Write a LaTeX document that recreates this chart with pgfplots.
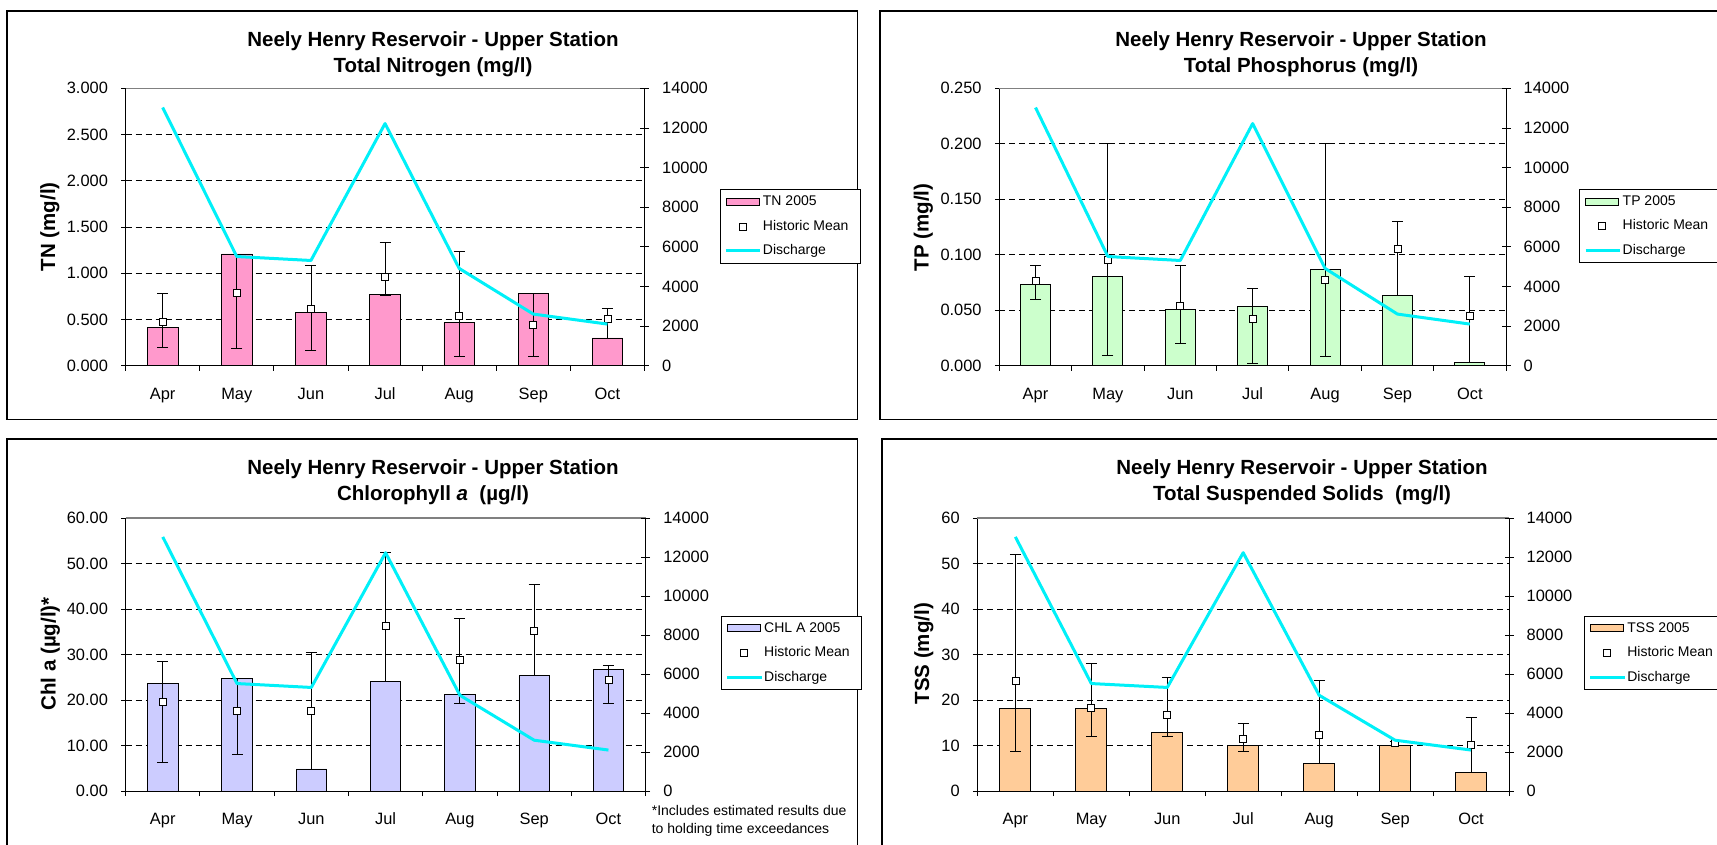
\documentclass[border=0pt]{standalone}
\usepackage{fontspec}
\setmainfont{Liberation Sans}
\usepackage{pgfplots}
\usepackage{pgfplotstable}
\pgfplotsset{compat=1.18}

\definecolor{tnpink}{HTML}{FF99CC}
\definecolor{tpgreen}{HTML}{CCFFCC}
\definecolor{chlblue}{HTML}{CCCCFF}
\definecolor{tsspeach}{HTML}{FFCC99}
\definecolor{dischg}{HTML}{00F0F8}

\newcommand{\tickfont}{\fontsize{16.4}{19}\selectfont}
\newcommand{\titlefont}{\fontsize{20.5}{25}\selectfont\bfseries}
\newcommand{\legfont}{\fontsize{14}{16}\selectfont}

\pgfplotstableread{
x bar m lo hi q
0 0.411 0.472 0.198 0.779 13030
1 1.208 0.786 0.184 1.200 5510
2 0.580 0.620 0.170 1.082 5310
3 0.768 0.956 0.760 1.330 12220
4 0.469 0.534 0.100 1.233 4910
5 0.779 0.447 0.100 0.780 2605
6 0.300 0.508 0.300 0.624 2100
}\tndata

\pgfplotstableread{
x bar m lo hi q
0 0.0736 0.0766 0.0600 0.0900 13030
1 0.0808 0.0956 0.0097 0.2000 5510
2 0.0510 0.0543 0.0200 0.0900 5310
3 0.0537 0.0422 0.0024 0.0700 12220
4 0.0869 0.0775 0.0084 0.2000 4910
5 0.0633 0.1050 0.0630 0.1300 2605
6 0.0027 0.0446 0.0027 0.0805 2100
}\tpdata

\pgfplotstableread{
x bar m lo hi q
0 23.60 19.60 6.30 28.50 13030
1 24.76 17.65 8.06 24.76 5510
2 4.84 17.65 4.84 30.50 5310
3 24.10 36.30 24.10 52.40 12220
4 21.20 28.80 19.20 37.95 4910
5 25.30 35.20 25.30 45.50 2605
6 26.70 24.50 19.20 27.60 2100
}\chldata

\pgfplotstableread{
x bar m lo hi q
0 18.10 24.25 8.80 52.10 13030
1 18.10 18.20 12.10 28.10 5510
2 12.90 16.70 12.10 25.00 5310
3 9.96 11.36 8.80 14.90 12220
4 6.00 12.45 6.00 24.20 4910
5 10.00 10.60 10.00 11.00 2605
6 4.10 10.10 4.10 16.10 2100
}\tssdata

\pgfplotsset{
  leftax/.style={
    scale only axis, anchor=south west,
    xmin=-0.5, xmax=6.5, ymin=0,
    axis x line*=bottom, axis y line*=left,
    axis line style={-, black, line width=0.8pt},
    xtick={0,...,6}, xticklabels={Apr,May,Jun,Jul,Aug,Sep,Oct},
    major x tick style={draw=none},
    minor xtick={-0.5,0.5,...,6.5},
    minor tick length=5pt,
    minor x tick style={black, line width=0.8pt, yshift=-2.5pt},
    tick align=center, major tick length=9pt,
    y tick style={black, line width=0.8pt},
    ymajorgrids, major grid style={black, line width=0.7pt, dash pattern=on 6pt off 4pt},
    scaled y ticks=false,
    tick label style={font=\tickfont},
    yticklabel style={anchor=east, inner sep=0pt, xshift=-13pt, /pgf/number format/assume math mode=true},
    xticklabel style={anchor=base, inner sep=0pt, yshift=-29.3pt},
    clip=false,
  },
  rightax/.style={
    scale only axis, anchor=south west,
    xmin=-0.5, xmax=6.5, ymin=0, ymax=14000,
    axis x line=none, axis y line*=right,
    axis line style={-, black, line width=0.8pt},
    ytick={0,2000,...,14000},
    tick align=center, major tick length=9pt,
    y tick style={black, line width=0.8pt},
    scaled y ticks=false,
    tick label style={font=\tickfont},
    yticklabel style={anchor=west, inner sep=0pt, xshift=13pt, /pgf/number format/assume math mode=true, /pgf/number format/set thousands separator={}},
    legend cell align=left,
    legend style={anchor=north west, draw=black, line width=0.8pt, fill=white,
      inner xsep=4.5pt, inner ysep=5.5pt, font=\legfont, row sep=11pt,
      nodes={inner sep=0pt, text height=10.5pt, text depth=3pt},
      /tikz/every odd column/.append style={column sep=2.5pt}},
    clip=false,
  },
  meanplot/.style={only marks, mark=square*, mark size=3.5pt,
    mark options={fill=white, draw=black, line width=0.7pt},
    error bars/.cd, y dir=both, y explicit,
    error bar style={black, line width=0.8pt},
    error mark options={black, line width=0.8pt, mark size=5.5pt, rotate=90}},
  barimg/.style={legend image code/.code={\draw[fill=#1, draw=black, line width=0.8pt] (0pt,-3.5pt) rectangle (33pt,3.5pt);}},
  meanimg/.style={legend image code/.code={\path (0pt,0pt) (33pt,0pt);
      \path[mark=square*, mark size=3.5pt, mark options={fill=white, draw=black, line width=0.7pt}] plot coordinates {(16.5pt,0pt)};}},
  lineimg/.style={legend image code/.code={\path (0pt,0pt) (33pt,0pt);
      \draw[overlay, dischg, line width=3pt] (0pt,0pt) -- (34.5pt,0pt);}},
}

\begin{document}
\begin{tikzpicture}
\useasboundingbox (0,0) rectangle (1717pt,844pt);
\fill[white] (0,0) rectangle (1717pt,844pt);

% frames
\draw[line width=1.2pt] (7pt,833pt) rectangle (857.5pt,424.7pt);
\draw[line width=1.2pt] (880pt,833pt) rectangle (1725pt,424.7pt);
\draw[line width=1.2pt] (7pt,405pt) rectangle (857.5pt,-6pt);
\draw[line width=1.2pt] (882pt,405pt) rectangle (1725pt,-6pt);

% ---------------- Panel 1: TN
\begin{axis}[leftax, at={(125.6pt,478.3pt)}, width=518.9pt, height=277.4pt,
  ymax=3, ytick={0,0.5,1,1.5,2,2.5,3},
  yticklabel style={/pgf/number format/fixed, /pgf/number format/fixed zerofill, /pgf/number format/precision=3}]
\addplot[ybar, bar width=30.5pt, fill=tnpink, draw=black, line width=0.8pt] table[x=x,y=bar]{\tndata};
\addplot[meanplot] table[x=x, y=m, y error plus expr=\thisrow{hi}-\thisrow{m}, y error minus expr=\thisrow{m}-\thisrow{lo}]{\tndata};
\draw[gray, line width=1.1pt] (rel axis cs:0,1) -- (rel axis cs:1,1);
\end{axis}
\begin{axis}[rightax, at={(125.6pt,478.3pt)}, width=518.9pt, height=277.4pt,
  legend style={at={(1.1446,0.636)}}]
\addlegendimage{barimg=tnpink}\addlegendentry{TN 2005}
\addlegendimage{meanimg}\addlegendentry{Historic Mean\hspace*{7pt}}
\addplot[dischg, line width=3pt, line join=round, lineimg] table[x=x,y=q]{\tndata};
\addlegendentry{Discharge}
\end{axis}
\node[font=\titlefont, anchor=base] at (433pt,797.3pt) {Neely Henry Reservoir - Upper Station};
\node[font=\titlefont, anchor=base] at (433pt,771.7pt) {Total Nitrogen (mg/l)};
\node[font=\titlefont, rotate=90, anchor=base] at (55pt,617.3pt) {TN (mg/l)};

% ---------------- Panel 2: TP
\begin{axis}[leftax, at={(999.3pt,478.3pt)}, width=506.7pt, height=277.4pt,
  ymax=0.25, ytick={0,0.05,0.1,0.15,0.2,0.25},
  yticklabel style={/pgf/number format/fixed, /pgf/number format/fixed zerofill, /pgf/number format/precision=3}]
\addplot[ybar, bar width=30pt, fill=tpgreen, draw=black, line width=0.8pt] table[x=x,y=bar]{\tpdata};
\addplot[meanplot] table[x=x, y=m, y error plus expr=\thisrow{hi}-\thisrow{m}, y error minus expr=\thisrow{m}-\thisrow{lo}]{\tpdata};
\draw[gray, line width=1.1pt] (rel axis cs:0,1) -- (rel axis cs:1,1);
\end{axis}
\begin{axis}[rightax, at={(999.3pt,478.3pt)}, width=506.7pt, height=277.4pt,
  legend style={at={(1.1447,0.637)}}]
\addlegendimage{barimg=tpgreen}\addlegendentry{TP 2005}
\addlegendimage{meanimg}\addlegendentry{Historic Mean\hspace*{7pt}}
\addplot[dischg, line width=3pt, line join=round, lineimg] table[x=x,y=q]{\tpdata};
\addlegendentry{Discharge}
\end{axis}
\node[font=\titlefont, anchor=base] at (1301pt,797.3pt) {Neely Henry Reservoir - Upper Station};
\node[font=\titlefont, anchor=base] at (1301pt,771.7pt) {Total Phosphorus (mg/l)};
\node[font=\titlefont, rotate=90, anchor=base] at (928.7pt,616.5pt) {TP (mg/l)};

% ---------------- Panel 3: Chl a
\begin{axis}[leftax, at={(125.6pt,53pt)}, width=520pt, height=273pt,
  ymax=60, ytick={0,10,20,30,40,50,60},
  yticklabel style={/pgf/number format/fixed, /pgf/number format/fixed zerofill, /pgf/number format/precision=2}]
\addplot[ybar, bar width=30.5pt, fill=chlblue, draw=black, line width=0.8pt] table[x=x,y=bar]{\chldata};
\addplot[meanplot] table[x=x, y=m, y error plus expr=\thisrow{hi}-\thisrow{m}, y error minus expr=\thisrow{m}-\thisrow{lo}]{\chldata};
\draw[gray, line width=1.1pt] (rel axis cs:0,1) -- (rel axis cs:1,1);
\end{axis}
\begin{axis}[rightax, at={(125.6pt,53pt)}, width=520pt, height=273pt,
  legend style={at={(1.1446,0.642)}}]
\addlegendimage{barimg=chlblue}\addlegendentry{CHL A 2005}
\addlegendimage{meanimg}\addlegendentry{Historic Mean\hspace*{7pt}}
\addplot[dischg, line width=3pt, line join=round, lineimg] table[x=x,y=q]{\chldata};
\addlegendentry{Discharge}
\end{axis}
\node[font=\titlefont, anchor=base] at (433pt,369.3pt) {Neely Henry Reservoir - Upper Station};
\node[font=\titlefont, anchor=base] at (433pt,343.7pt) {Chlorophyll \textit{a}~ (µg/l)};
\node[font=\titlefont, rotate=90, anchor=base] at (55.5pt,190pt) {Chl a (µg/l)*};
\node[font=\legfont, anchor=base west] at (648.3pt,29pt) {*Includes estimated results due};
\node[font=\legfont, anchor=base west] at (648.3pt,10.5pt) {to holding time exceedances};

% ---------------- Panel 4: TSS
\begin{axis}[leftax, at={(977.4pt,53pt)}, width=531.6pt, height=273pt,
  ymax=60, ytick={0,10,20,30,40,50,60}]
\addplot[ybar, bar width=31pt, fill=tsspeach, draw=black, line width=0.8pt] table[x=x,y=bar]{\tssdata};
\addplot[meanplot] table[x=x, y=m, y error plus expr=\thisrow{hi}-\thisrow{m}, y error minus expr=\thisrow{m}-\thisrow{lo}]{\tssdata};
\draw[gray, line width=1.1pt] (rel axis cs:0,1) -- (rel axis cs:1,1);
\end{axis}
\begin{axis}[rightax, at={(977.4pt,53pt)}, width=531.6pt, height=273pt,
  legend style={at={(1.141,0.642)}}]
\addlegendimage{barimg=tsspeach}\addlegendentry{TSS 2005}
\addlegendimage{meanimg}\addlegendentry{Historic Mean\hspace*{7pt}}
\addplot[dischg, line width=3pt, line join=round, lineimg] table[x=x,y=q]{\tssdata};
\addlegendentry{Discharge}
\end{axis}
\node[font=\titlefont, anchor=base] at (1302pt,369.3pt) {Neely Henry Reservoir - Upper Station};
\node[font=\titlefont, anchor=base] at (1302pt,343.7pt) {Total Suspended Solids~ (mg/l)};
\node[font=\titlefont, rotate=90, anchor=base] at (929pt,190.2pt) {TSS (mg/l)};
\end{tikzpicture}
\end{document}
